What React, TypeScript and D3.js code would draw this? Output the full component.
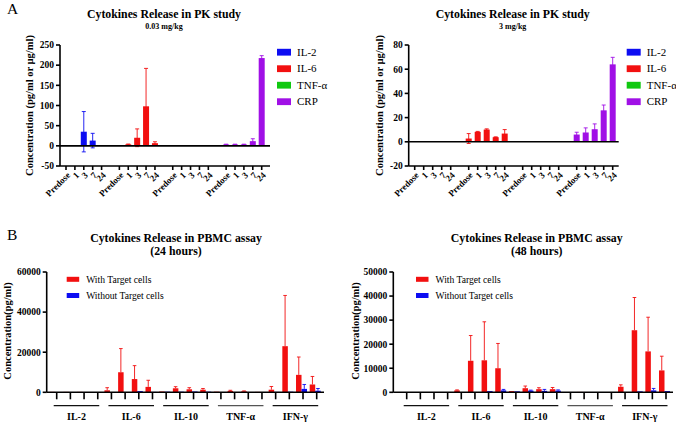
import * as d3 from 'd3'

// ---- PK study (panel A) ----
const timepoints = ['Predose', '1', '3', '7', '24']
const pkSeries = ['IL-2', 'IL-6', 'TNF-α', 'CRP']
const pkColors = ['#0d0df2', '#f21010', '#10c810', '#a010e6']

const pkLowMean = [
  [0, 0, 35, 13, 0],
  [0, 3.5, 20, 98, 6.6],
  [0, 0, 0, 0, 0],
  [3.3, 3.3, 3.3, 11.6, 217.6]
]
const pkLowSd = [
  [0, 0, 50, 18, 0],
  [0, 1, 22, 94, 3.5],
  [0, 0, 0, 0, 0],
  [0.8, 0.8, 0.8, 6, 6]
]
const pkHighMean = [
  [0, 0, 0, 0, 0],
  [2.7, 8.2, 10.1, 3.8, 6.8],
  [0, 0, 0, 0, 0],
  [6, 7.7, 10.4, 26, 64]
]
const pkHighSd = [
  [0, 0, 0, 0, 0],
  [4.1, 0.4, 0.6, 0.3, 3.3],
  [0, 0, 0, 0, 0],
  [1.9, 3.8, 4.4, 4.4, 5.8]
]
const pkLowTicks = [-50, 0, 50, 100, 150, 200, 250]
const pkHighTicks = [-20, 0, 20, 40, 60, 80]

// ---- PBMC assay (panel B) ----
const cytokines = ['IL-2', 'IL-6', 'IL-10', 'TNF-α', 'IFN-γ']
const pbmcSeries = ['With Target cells', 'Without Target cells']
const pbmcColors = ['#f21010', '#0d0df2']

const h24WithMean = [200, 200, 200, 100, 1000, 10000, 6600, 2700, 400, 2000, 1500, 1300, 300, 700, 500, 200, 1300, 23000, 8700, 3900]
const h24WithSd = [0, 0, 0, 0, 1300, 11800, 6700, 3300, 0, 800, 800, 600, 0, 300, 200, 0, 1600, 25300, 8900, 4000]
const h24WithoutMean = [100, 100, 100, 150, 100, 100, 600, 200, 300, 300, 400, 300, 100, 100, 100, 100, 200, 300, 1700, 800]
const h24WithoutSd = [0, 0, 0, 0, 0, 0, 0, 0, 0, 0, 0, 0, 0, 0, 0, 0, 0, 0, 2200, 1100]

const h48WithMean = [0, 0, 0, 0, 800, 13100, 13300, 10000, 500, 1700, 1300, 1300, 100, 150, 100, 0, 2300, 25800, 17000, 9100]
const h48WithSd = [0, 0, 0, 0, 200, 10500, 16000, 10300, 0, 900, 600, 700, 0, 0, 0, 0, 800, 13600, 14200, 5900]
const h48WithoutMean = [0, 0, 0, 0, 0, 0, 500, 800, 400, 700, 600, 700, 0, 0, 0, 0, 0, 400, 800, 500]
const h48WithoutSd = [0, 0, 0, 0, 0, 0, 0, 400, 0, 200, 600, 300, 0, 0, 0, 0, 0, 0, 800, 0]

const h24Ticks = [0, 20000, 40000, 60000]
const h48Ticks = [0, 10000, 20000, 30000, 40000, 50000]

const FONT = '"Liberation Serif", "Times New Roman", serif'

interface PKProps {
  subtitle: string
  means: number[][]
  sds: number[][]
  ticks: number[]
  axisX: number
  axisEnd: number
  firstSlot: number
  lastSlot: number
  titleX: number
  labelX: number
  legendX: number
}

function PKPanel(p: PKProps) {
  const yMin = d3.min(p.ticks) as number
  const yMax = d3.max(p.ticks) as number
  const y = d3.scaleLinear().domain([yMin, yMax]).range([166, 45])
  const x = d3.scaleLinear().domain([0, 22]).range([p.firstSlot, p.lastSlot])
  const slots = pkSeries.flatMap((_, g) => timepoints.map((t, i) => ({ g, i, t, cx: x(g * 6 + i) })))

  return (
    <g>
      <text x={p.titleX} y={18} textAnchor="middle" fontSize={11.8} fontWeight="bold">Cytokines Release in PK study</text>
      <text x={p.titleX} y={28.5} textAnchor="middle" fontSize={8} fontWeight="bold">{p.subtitle}</text>
      <text transform={`translate(${p.labelX},${(45 + 166) / 2}) rotate(-90)`} textAnchor="middle" fontSize={10.5} fontWeight="bold">
        Concentration (pg/ml or µg/ml)
      </text>

      {/* bars */}
      {slots.map(s => {
        const v = p.means[s.g][s.i]
        if (!v) return null
        return (
          <rect key={`b${s.g}${s.i}`} x={s.cx - 3} width={6}
            y={y(Math.max(v, 0))} height={Math.abs(y(v) - y(0))} fill={pkColors[s.g]} />
        )
      })}
      {/* error bars */}
      {slots.map(s => {
        const v = p.means[s.g][s.i]
        const sd = p.sds[s.g][s.i]
        if (!sd) return null
        const c = pkColors[s.g]
        return (
          <g key={`e${s.g}${s.i}`} stroke={c} strokeWidth={0.9}>
            <line x1={s.cx} x2={s.cx} y1={y(v - sd)} y2={y(v + sd)} />
            <line x1={s.cx - 2} x2={s.cx + 2} y1={y(v + sd)} y2={y(v + sd)} />
            <line x1={s.cx - 2} x2={s.cx + 2} y1={y(v - sd)} y2={y(v - sd)} />
          </g>
        )
      })}

      {/* axes */}
      <g stroke="#000" strokeWidth={1.6}>
        <line x1={p.axisX} x2={p.axisX} y1={y(yMax)} y2={y(yMin)} />
        <line x1={p.axisX} x2={p.axisEnd} y1={y(yMin)} y2={y(yMin)} />
        <line x1={p.axisX} x2={p.axisEnd} y1={y(0)} y2={y(0)} />
        {p.ticks.map(t => <line key={t} x1={p.axisX - 4} x2={p.axisX} y1={y(t)} y2={y(t)} />)}
        {slots.map(s => <line key={`t${s.g}${s.i}`} x1={s.cx} x2={s.cx} y1={y(yMin)} y2={y(yMin) + 4} />)}
      </g>
      {p.ticks.map(t => (
        <text key={t} x={p.axisX - 6} y={y(t)} dy="0.35em" textAnchor="end" fontSize={9.5} fontWeight="bold">{t}</text>
      ))}
      {slots.map(s => (
        <text key={`l${s.g}${s.i}`} transform={`translate(${s.cx + 2.5},${y(yMin) + 7.5}) rotate(-45)`}
          textAnchor="end" dy="0.35em" fontSize={9} fontWeight="bold">{s.t}</text>
      ))}

      {/* legend */}
      {pkSeries.map((name, i) => (
        <g key={name} transform={`translate(${p.legendX},${52 + i * 16.5})`}>
          <rect x={0} y={-3.2} width={14} height={6.8} fill={pkColors[i]} />
          <text x={20} y={0} dy="0.35em" fontSize={11}>{name}</text>
        </g>
      ))}
    </g>
  )
}

interface PBMCProps {
  hours: string
  withMean: number[]
  withSd: number[]
  withoutMean: number[]
  withoutSd: number[]
  ticks: number[]
  axisX: number
  axisEnd: number
  firstTick: number
  lastTick: number
  titleX: number
  labelX: number
  legendX: number
}

function PBMCPanel(p: PBMCProps) {
  const yMax = d3.max(p.ticks) as number
  const y = d3.scaleLinear().domain([0, yMax]).range([392.3, 272])
  const x = d3.scaleLinear().domain([0, 19]).range([p.firstTick, p.lastTick])
  const cats = d3.range(20)
  const series = [
    { mean: p.withMean, sd: p.withSd, off: -7, color: pbmcColors[0] },
    { mean: p.withoutMean, sd: p.withoutSd, off: -1.5, color: pbmcColors[1] }
  ]
  const bw = 5.5

  return (
    <g>
      <text x={p.titleX} y={242} textAnchor="middle" fontSize={11.8} fontWeight="bold">Cytokines Release in PBMC assay</text>
      <text x={p.titleX} y={254.5} textAnchor="middle" fontSize={11.8} fontWeight="bold">{`(${p.hours})`}</text>
      <text transform={`translate(${p.labelX},331) rotate(-90)`} textAnchor="middle" fontSize={10.5} fontWeight="bold">
        Concentration(pg/ml)
      </text>

      {series.map((s, si) => cats.map(c => {
        const v = s.mean[c]
        if (!v) return null
        return <rect key={`b${si}-${c}`} x={x(c) + s.off} width={bw} y={y(v)} height={y(0) - y(v)} fill={s.color} />
      }))}
      {series.map((s, si) => cats.map(c => {
        const v = s.mean[c]
        const sd = s.sd[c]
        if (!sd) return null
        const cx = x(c) + s.off + bw / 2
        return (
          <g key={`e${si}-${c}`} stroke={s.color} strokeWidth={0.9}>
            <line x1={cx} x2={cx} y1={y(v)} y2={y(v + sd)} />
            <line x1={cx - 1.8} x2={cx + 1.8} y1={y(v + sd)} y2={y(v + sd)} />
          </g>
        )
      }))}

      <g stroke="#000" strokeWidth={1.6}>
        <line x1={p.axisX} x2={p.axisX} y1={y(yMax)} y2={y(0)} />
        <line x1={p.axisX} x2={p.axisEnd} y1={y(0)} y2={y(0)} />
        {p.ticks.map(t => <line key={t} x1={p.axisX - 4} x2={p.axisX} y1={y(t)} y2={y(t)} />)}
        {cats.map(c => <line key={c} x1={x(c)} x2={x(c)} y1={y(0)} y2={y(0) + 7} />)}
      </g>
      {p.ticks.map(t => (
        <text key={t} x={p.axisX - 6} y={y(t)} dy="0.35em" textAnchor="end" fontSize={9.5} fontWeight="bold">{t}</text>
      ))}

      {cytokines.map((name, g) => {
        const x0 = x(g * 4) - 3
        const x1 = x(g * 4 + 3) + 1.5
        return (
          <g key={name}>
            <line x1={x0} x2={x1} y1={405.7} y2={405.7} stroke={name === 'TNF-α' ? '#555' : '#111'} strokeWidth={1.2} />
            <text x={(x0 + x1) / 2} y={419.5} textAnchor="middle" fontSize={10} fontWeight="bold">{name}</text>
          </g>
        )
      })}

      {pbmcSeries.map((name, i) => (
        <g key={name} transform={`translate(${p.legendX},${279.3 + i * 16.2})`}>
          <rect x={0} y={-2.5} width={12.5} height={5} fill={pbmcColors[i]} />
          <text x={19.5} y={0} dy="0.35em" fontSize={9.6}>{name}</text>
        </g>
      ))}
    </g>
  )
}

export default function App() {
  return (
    <svg width={676} height={424} style={{ position: 'absolute', left: 0, top: 0, background: '#fff' }}
      fontFamily={FONT}>
      <rect width={676} height={424} fill="#fff" />
      <text x={7} y={14} fontSize={15.5}>A</text>
      <text x={7} y={240} fontSize={15.5}>B</text>

      <PKPanel subtitle="0.03 mg/kg" means={pkLowMean} sds={pkLowSd} ticks={pkLowTicks}
        axisX={60} axisEnd={270} firstSlot={66} lastSlot={261.7}
        titleX={164} labelX={33} legendX={277} />
      <PKPanel subtitle="3 mg/kg" means={pkHighMean} sds={pkHighSd} ticks={pkHighTicks}
        axisX={408.7} axisEnd={618.7} firstSlot={414.7} lastSlot={612.7}
        titleX={512.7} labelX={383} legendX={626.7} />

      <PBMCPanel hours="24 hours" withMean={h24WithMean} withSd={h24WithSd}
        withoutMean={h24WithoutMean} withoutSd={h24WithoutSd} ticks={h24Ticks}
        axisX={46.7} axisEnd={324} firstTick={56.7} lastTick={316.7}
        titleX={176} labelX={11} legendX={66.7} />
      <PBMCPanel hours="48 hours" withMean={h48WithMean} withSd={h48WithSd}
        withoutMean={h48WithoutMean} withoutSd={h48WithoutSd} ticks={h48Ticks}
        axisX={393.3} axisEnd={673} firstTick={406.7} lastTick={666}
        titleX={536.7} labelX={359} legendX={416} />
    </svg>
  )
}
